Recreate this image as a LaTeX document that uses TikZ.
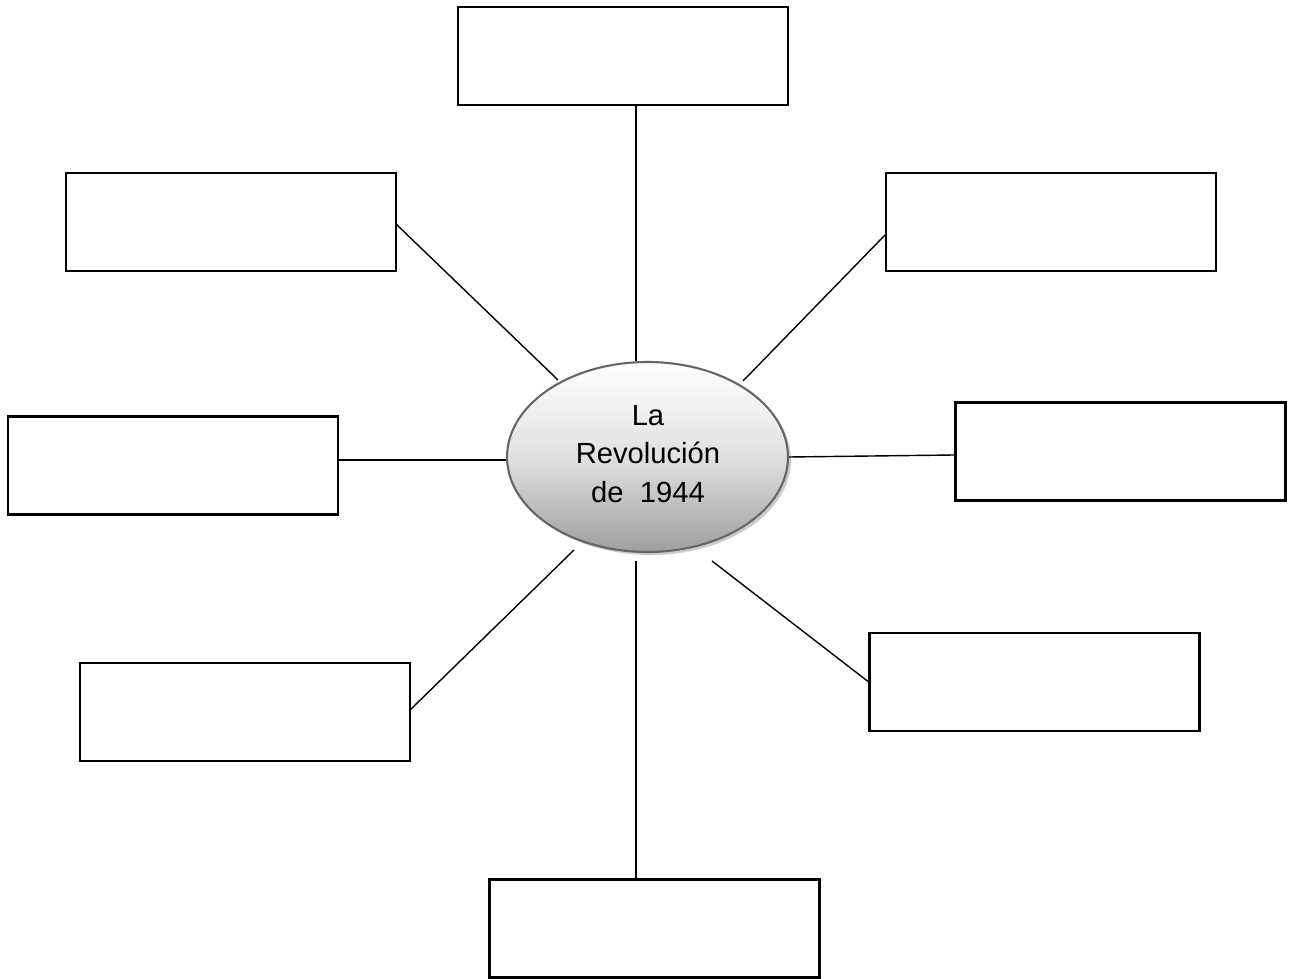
\documentclass[tikz,border=0pt]{standalone}
\usepackage{fontspec}
\setmainfont{Liberation Sans}
\usetikzlibrary{shadows,shapes.geometric}
\begin{document}
\begin{tikzpicture}[x=0.02cm,y=-0.02cm,
  emptybox/.style={draw=black,line width=1.2pt,fill=white,minimum width=6.6cm,minimum height=1.96cm,inner sep=0pt},
  link/.style={draw=black,line width=0.8pt},
  centre/.style={ellipse,draw=black!60,line width=1.2pt,minimum width=5.62cm,minimum height=3.8cm,
    top color=white,bottom color=black!38,middle color=black!12,
    drop shadow={shadow xshift=0.06cm,shadow yshift=-0.06cm,fill=black!25,opacity=0.8},
    inner sep=0pt},
  centretext/.style={align=center,font=\fontsize{16.6}{21.8}\selectfont,inner sep=0pt}]
\useasboundingbox (0,0) rectangle (1289,979);
\node[emptybox] (top) at (623,56) {};
\node[emptybox] (ul) at (231,222) {};
\node[emptybox] (ur) at (1051,222) {};
\node[emptybox] (l) at (173,465.5) {};
\node[emptybox] (r) at (1120.5,451.5) {};
\node[emptybox] (ll) at (245,712) {};
\node[emptybox] (lr) at (1034.5,682) {};
\node[emptybox] (bot) at (654.5,928.5) {};
\node[centre] (c) at (647.5,457) {};
\node[centretext] (ct) at (648,454) {La\\Revolución\\de\ \ 1944};
\coordinate (ulend) at (558,380);
\coordinate (urend) at (743,381);
\coordinate (llend) at (574,550);
\coordinate (lrend) at (712,561);
\coordinate (botend) at (636,561);
\coordinate (ulstart) at (396,224);
\coordinate (urstart) at (886,234);
\coordinate (llstart) at (410,710);
\coordinate (lrstart) at (870,683);
\draw[link] (top.south -| botend) -- (c.north -| botend);
\draw[link] (ulstart) -- (ulend);
\draw[link] (urstart) -- (urend);
\draw[link] (l.east |- 0,460) -- (c.west |- 0,460);
\draw[link] (c.east) -- (r.west |- 0,455);
\draw[link] (llstart) -- (llend);
\draw[link] (botend) -- (bot.north -| botend);
\draw[link] (lrend) -- (lrstart);
\end{tikzpicture}
\end{document}
